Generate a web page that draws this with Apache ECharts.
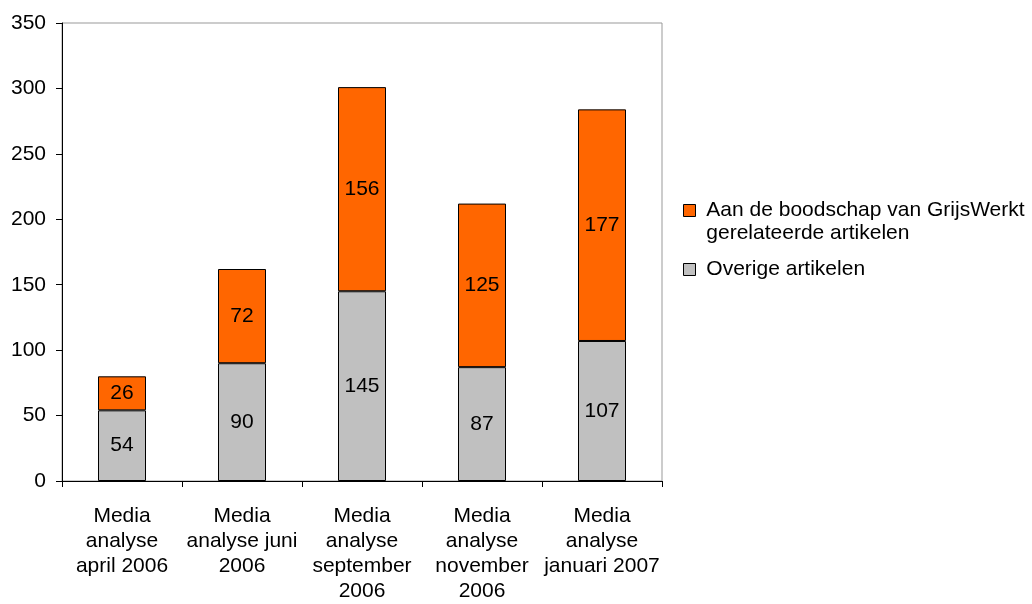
<!DOCTYPE html>
<html><head><meta charset="utf-8">
<script src="https://cdn.jsdelivr.net/npm/echarts@6/dist/echarts.min.js"></script>
<style>html,body{margin:0;padding:0;background:#fff}#c{width:1032px;height:604px}</style>
</head><body><div id="c"></div>
<script>
const categories = ["Media\nanalyse\napril 2006", "Media\nanalyse juni\n2006", "Media\nanalyse\nseptember\n2006", "Media\nanalyse\nnovember\n2006", "Media\nanalyse\njanuari 2007"];
const overige = [54, 90, 145, 87, 107];
const gerelateerd = [26, 72, 156, 125, 177];
const nameOverige = "Overige artikelen";
const nameGerelateerd = "Aan de boodschap van GrijsWerkt gerelateerde artikelen";
const font = "Liberation Sans, Arial, sans-serif";
const chart = echarts.init(document.getElementById('c'));
const labelStyle = {show: true, position: 'inside', color: '#000', fontSize: 21, fontFamily: font};
chart.setOption({
  animation: false,
  grid: {left: 62, right: 370, top: 23, bottom: 121, show: true, borderColor: '#999', borderWidth: 1},
  legend: {
    orient: 'vertical', left: 678, top: 171, itemWidth: 12, itemHeight: 12, itemGap: 13,
    icon: 'rect',
    data: [nameGerelateerd, nameOverige],
    formatter: n => n === nameGerelateerd ? ' \n Aan de boodschap van GrijsWerkt\n gerelateerde artikelen' : ' ' + n,
    textStyle: {fontSize: 21, fontFamily: font, color: '#000', lineHeight: 23},
    itemStyle: {borderColor: '#000', borderWidth: 1}
  },
  xAxis: {
    type: 'category', data: categories,
    axisLine: {lineStyle: {color: '#000', width: 1}},
    axisTick: {show: true, length: 6, lineStyle: {color: '#000'}},
    axisLabel: {color: '#000', fontSize: 21, fontFamily: font, lineHeight: 25, margin: 23, interval: 0}
  },
  yAxis: {
    type: 'value', min: 0, max: 350, interval: 50,
    axisLine: {show: true, lineStyle: {color: '#000', width: 1}},
    axisTick: {show: true, length: 6, lineStyle: {color: '#000'}},
    splitLine: {show: false},
    axisLabel: {color: '#000', fontSize: 21, fontFamily: font, margin: 16}
  },
  series: [
    {name: nameOverige, type: 'bar', stack: 's', data: overige, barWidth: '40%',
     itemStyle: {color: '#C0C0C0', borderColor: '#000', borderWidth: 1}, label: labelStyle},
    {name: nameGerelateerd, type: 'bar', stack: 's', data: gerelateerd, barWidth: '40%',
     itemStyle: {color: '#FF6600', borderColor: '#000', borderWidth: 1}, label: labelStyle}
  ]
});
</script></body></html>
